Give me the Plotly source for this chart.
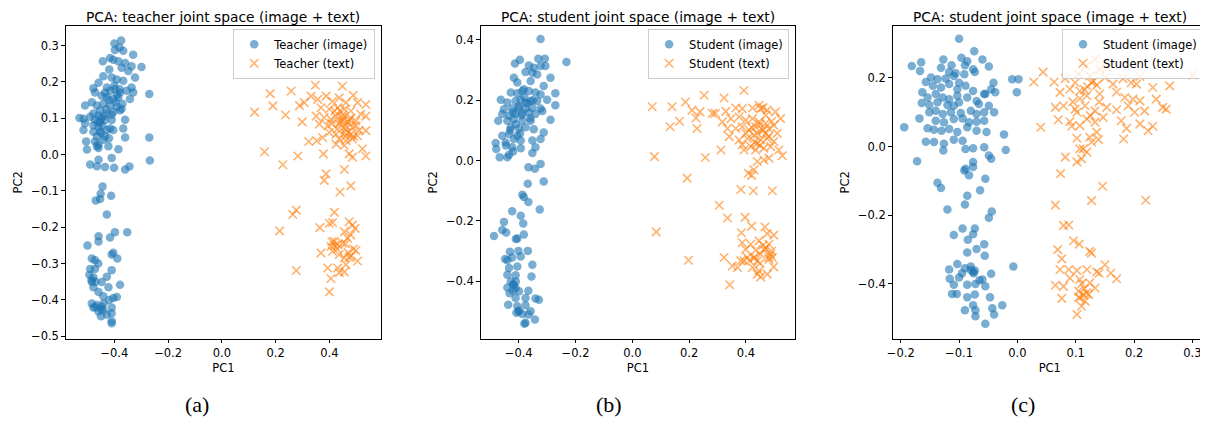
import plotly.graph_objects as go

# ---------------- data (PC1, PC2) ----------------
teacher_image = [
    (-0.400, 0.306), (-0.375, 0.314), (-0.381, 0.295), (-0.398, 0.288), (-0.367, 0.286), (-0.330, 0.275),
    (-0.443, 0.257), (-0.416, 0.266), (-0.404, 0.261), (-0.385, 0.257), (-0.360, 0.252), (-0.336, 0.243),
    (-0.299, 0.241), (-0.373, 0.239), (-0.419, 0.234), (-0.348, 0.230), (-0.323, 0.212), (-0.441, 0.216),
    (-0.410, 0.212), (-0.391, 0.207), (-0.367, 0.203), (-0.336, 0.185), (-0.478, 0.183), (-0.459, 0.198),
    (-0.428, 0.185), (-0.416, 0.176), (-0.398, 0.180), (-0.379, 0.171), (-0.354, 0.176), (-0.330, 0.171),
    (-0.270, 0.167), (-0.472, 0.171), (-0.447, 0.162), (-0.428, 0.158), (-0.404, 0.153), (-0.385, 0.158),
    (-0.342, 0.153), (-0.484, 0.144), (-0.509, 0.135), (-0.465, 0.135), (-0.441, 0.140), (-0.416, 0.135),
    (-0.391, 0.131), (-0.373, 0.126), (-0.453, 0.122), (-0.478, 0.113), (-0.459, 0.108), (-0.428, 0.113),
    (-0.404, 0.117), (-0.379, 0.122), (-0.530, 0.101), (-0.515, 0.099), (-0.490, 0.104), (-0.472, 0.095),
    (-0.453, 0.090), (-0.435, 0.095), (-0.410, 0.095), (-0.360, 0.096), (-0.509, 0.086), (-0.478, 0.081),
    (-0.459, 0.077), (-0.416, 0.072), (-0.515, 0.068), (-0.478, 0.063), (-0.453, 0.063), (-0.428, 0.068),
    (-0.404, 0.068), (-0.367, 0.072), (-0.465, 0.050), (-0.435, 0.050), (-0.360, 0.047), (-0.270, 0.047),
    (-0.505, 0.036), (-0.472, 0.036), (-0.441, 0.041), (-0.459, 0.027), (-0.465, 0.023), (-0.422, 0.023),
    (-0.385, 0.015), (-0.502, 0.014), (-0.459, 0.018), (-0.410, -0.009), (-0.459, -0.014), (-0.268, -0.016),
    (-0.490, -0.027), (-0.465, -0.032), (-0.435, -0.034), (-0.401, -0.036), (-0.360, -0.041), (-0.344, -0.033),
    (-0.440, 0.105), (-0.450, 0.100), (-0.430, 0.125), (-0.420, 0.150), (-0.390, 0.165), (-0.400, 0.190),
    (-0.380, 0.180), (-0.460, 0.090), (-0.445, 0.080), (-0.410, 0.110), (-0.395, 0.145), (-0.435, 0.170),
    (-0.370, 0.140), (-0.450, 0.060), (-0.420, 0.045),
    (-0.444, -0.088), (-0.451, -0.108), (-0.412, -0.113), (-0.469, -0.126), (-0.453, -0.122), (-0.428, -0.165),
    (-0.398, -0.214), (-0.352, -0.214), (-0.459, -0.225), (-0.416, -0.228), (-0.500, -0.250), (-0.459, -0.239),
    (-0.484, -0.286), (-0.472, -0.291), (-0.410, -0.275), (-0.404, -0.270), (-0.389, -0.286), (-0.490, -0.315),
    (-0.472, -0.315), (-0.410, -0.318), (-0.493, -0.331), (-0.478, -0.338), (-0.428, -0.336), (-0.484, -0.351),
    (-0.447, -0.351), (-0.478, -0.365), (-0.422, -0.365), (-0.379, -0.358), (-0.459, -0.378), (-0.441, -0.390),
    (-0.404, -0.395), (-0.391, -0.392), (-0.484, -0.410), (-0.465, -0.414), (-0.447, -0.419), (-0.478, -0.421),
    (-0.441, -0.428), (-0.410, -0.421), (-0.459, -0.432), (-0.428, -0.440), (-0.410, -0.437), (-0.410, -0.459),
    (-0.410, -0.464), (-0.470, -0.420), (-0.450, -0.425), (-0.440, -0.410), (-0.485, -0.345), (-0.460, -0.300),
    (-0.470, -0.350), (-0.420, -0.400), (-0.450, -0.445),
]

teacher_text = [
    (0.348, 0.191), (0.449, 0.188), (0.180, 0.168), (0.258, 0.175), (0.122, 0.117), (0.190, 0.134),
    (0.237, 0.109), (0.299, 0.090), (0.289, 0.135), (0.307, 0.143), (0.332, 0.161), (0.357, 0.152),
    (0.388, 0.161), (0.412, 0.147), (0.437, 0.156), (0.462, 0.143), (0.489, 0.163), (0.505, 0.143),
    (0.536, 0.138), (0.369, 0.129), (0.400, 0.125), (0.431, 0.129), (0.456, 0.125), (0.480, 0.120),
    (0.517, 0.111), (0.536, 0.106), (0.351, 0.106), (0.381, 0.102), (0.406, 0.097), (0.425, 0.106),
    (0.449, 0.102), (0.474, 0.097), (0.499, 0.093), (0.363, 0.084), (0.394, 0.079), (0.437, 0.084),
    (0.462, 0.079), (0.486, 0.075), (0.511, 0.066), (0.536, 0.066), (0.400, 0.061), (0.425, 0.056),
    (0.456, 0.061), (0.480, 0.056), (0.505, 0.052), (0.437, 0.043), (0.462, 0.038), (0.486, 0.043),
    (0.323, 0.036), (0.353, 0.038), (0.375, 0.047), (0.425, 0.029), (0.456, 0.025), (0.474, 0.002),
    (0.486, -0.007), (0.523, 0.016), (0.536, -0.004), (0.378, 0.002), (0.283, -0.004), (0.159, 0.008),
    (0.227, -0.028), (0.388, -0.053), (0.381, -0.071), (0.456, -0.041), (0.480, -0.086), (0.440, -0.103),
    (0.440, 0.090), (0.460, 0.070), (0.470, 0.090), (0.450, 0.110), (0.430, 0.070), (0.480, 0.100),
    (0.470, 0.060), (0.440, 0.120), (0.460, 0.050), (0.420, 0.120), (0.500, 0.080), (0.450, 0.095),
    (0.490, 0.050), (0.410, 0.085),
    (0.277, -0.153), (0.264, -0.165), (0.419, -0.159), (0.215, -0.210), (0.365, -0.201), (0.400, -0.189),
    (0.412, -0.187), (0.474, -0.185), (0.486, -0.194), (0.496, -0.203), (0.456, -0.212), (0.468, -0.230),
    (0.480, -0.221), (0.419, -0.239), (0.406, -0.253), (0.431, -0.248), (0.449, -0.244), (0.412, -0.266),
    (0.437, -0.275), (0.456, -0.284), (0.474, -0.283), (0.499, -0.264), (0.505, -0.293), (0.369, -0.271),
    (0.462, -0.303), (0.394, -0.312), (0.431, -0.312), (0.456, -0.323), (0.437, -0.325), (0.406, -0.341),
    (0.277, -0.319), (0.400, -0.378), (0.420, -0.250), (0.430, -0.260), (0.470, -0.270), (0.480, -0.280),
    (0.490, -0.260), (0.460, -0.245), (0.410, -0.240),
]

student_image_b = [
    (-0.323, 0.402), (-0.232, 0.326), (-0.413, 0.321), (-0.396, 0.334), (-0.331, 0.337), (-0.308, 0.337),
    (-0.364, 0.315), (-0.347, 0.307), (-0.323, 0.313), (-0.306, 0.313), (-0.376, 0.293), (-0.352, 0.291),
    (-0.335, 0.285), (-0.288, 0.274), (-0.417, 0.274), (-0.405, 0.258), (-0.312, 0.247), (-0.358, 0.263),
    (-0.382, 0.236), (-0.428, 0.225), (-0.405, 0.223), (-0.387, 0.230), (-0.364, 0.230), (-0.341, 0.225),
    (-0.323, 0.219), (-0.271, 0.223), (-0.463, 0.201), (-0.440, 0.192), (-0.411, 0.197), (-0.393, 0.201),
    (-0.376, 0.192), (-0.358, 0.197), (-0.335, 0.197), (-0.300, 0.201), (-0.271, 0.183), (-0.452, 0.170),
    (-0.423, 0.172), (-0.399, 0.175), (-0.376, 0.172), (-0.352, 0.175), (-0.323, 0.172), (-0.458, 0.154),
    (-0.434, 0.148), (-0.411, 0.154), (-0.387, 0.157), (-0.364, 0.159), (-0.341, 0.154), (-0.317, 0.164),
    (-0.472, 0.132), (-0.440, 0.132), (-0.417, 0.137), (-0.387, 0.132), (-0.358, 0.132), (-0.288, 0.135),
    (-0.428, 0.110), (-0.399, 0.106), (-0.376, 0.110), (-0.347, 0.104), (-0.458, 0.082), (-0.434, 0.088),
    (-0.405, 0.082), (-0.312, 0.093), (-0.481, 0.058), (-0.446, 0.060), (-0.417, 0.071), (-0.393, 0.066),
    (-0.352, 0.066), (-0.323, 0.071), (-0.479, 0.038), (-0.423, 0.044), (-0.393, 0.041), (-0.341, 0.044),
    (-0.434, 0.019), (-0.467, 0.011), (-0.440, 0.011), (-0.352, 0.025), (-0.366, -0.022), (-0.343, -0.027),
    (-0.323, -0.011), (-0.368, -0.077), (-0.312, -0.069), (-0.387, -0.113), (-0.366, -0.137), (-0.382, -0.121),
    (-0.326, -0.162), (-0.423, -0.168),
    (-0.400, 0.180), (-0.380, 0.210), (-0.420, 0.160), (-0.390, 0.150), (-0.370, 0.190), (-0.410, 0.120),
    (-0.350, 0.200), (-0.430, 0.100), (-0.395, 0.090), (-0.360, 0.140), (-0.445, 0.050), (-0.420, 0.030),
    (-0.393, -0.183), (-0.452, -0.203), (-0.384, -0.208), (-0.458, -0.230), (-0.444, -0.238), (-0.487, -0.250),
    (-0.405, -0.258), (-0.382, -0.245), (-0.431, -0.302), (-0.401, -0.299), (-0.368, -0.299), (-0.448, -0.326),
    (-0.423, -0.321), (-0.393, -0.318), (-0.434, -0.356), (-0.405, -0.351), (-0.352, -0.345), (-0.440, -0.378),
    (-0.411, -0.380), (-0.355, -0.384), (-0.428, -0.400), (-0.417, -0.411), (-0.440, -0.420), (-0.411, -0.422),
    (-0.432, -0.439), (-0.399, -0.433), (-0.366, -0.431), (-0.411, -0.455), (-0.376, -0.455), (-0.341, -0.457),
    (-0.329, -0.461), (-0.437, -0.477), (-0.405, -0.482), (-0.376, -0.479), (-0.399, -0.497), (-0.358, -0.499),
    (-0.408, -0.504), (-0.387, -0.508), (-0.366, -0.510), (-0.343, -0.526), (-0.376, -0.537),
    (-0.420, -0.410), (-0.410, -0.400), (-0.420, -0.430), (-0.400, -0.500), (-0.380, -0.540), (-0.440, -0.330),
    (-0.410, -0.260),
]

student_text_b = [
    (0.070, 0.178), (0.140, 0.178), (0.187, 0.194), (0.253, 0.216), (0.323, 0.207), (0.393, 0.232),
    (0.133, 0.112), (0.166, 0.130), (0.210, 0.167), (0.224, 0.141), (0.238, 0.161), (0.228, 0.106),
    (0.282, 0.156), (0.292, 0.156), (0.329, 0.163), (0.364, 0.174), (0.387, 0.172), (0.423, 0.174),
    (0.446, 0.183), (0.452, 0.172), (0.475, 0.167), (0.504, 0.161), (0.522, 0.139), (0.317, 0.128),
    (0.347, 0.139), (0.376, 0.145), (0.399, 0.134), (0.423, 0.139), (0.446, 0.128), (0.469, 0.123),
    (0.498, 0.117), (0.335, 0.106), (0.364, 0.106), (0.387, 0.112), (0.411, 0.101), (0.434, 0.112),
    (0.458, 0.101), (0.481, 0.106), (0.510, 0.090), (0.341, 0.079), (0.376, 0.068), (0.405, 0.073),
    (0.428, 0.084), (0.452, 0.068), (0.475, 0.073), (0.498, 0.063), (0.387, 0.052), (0.417, 0.046),
    (0.440, 0.057), (0.463, 0.041), (0.487, 0.046), (0.516, 0.035), (0.528, 0.016), (0.393, 0.035),
    (0.434, 0.035), (0.312, 0.035), (0.257, 0.010), (0.078, 0.013), (0.481, 0.008), (0.440, -0.003),
    (0.463, 0.002), (0.408, -0.042), (0.428, -0.031), (0.420, -0.049), (0.193, -0.058), (0.382, -0.096),
    (0.426, -0.100), (0.493, -0.100),
    (0.460, 0.100), (0.470, 0.090), (0.440, 0.090), (0.450, 0.120), (0.480, 0.080), (0.430, 0.060),
    (0.470, 0.150), (0.460, 0.175), (0.420, 0.110), (0.490, 0.130), (0.450, 0.050), (0.400, 0.090),
    (0.306, -0.148), (0.335, -0.190), (0.397, -0.188), (0.420, -0.217), (0.467, -0.220), (0.084, -0.236),
    (0.384, -0.239), (0.475, -0.242), (0.498, -0.247), (0.387, -0.272), (0.417, -0.277), (0.446, -0.266),
    (0.481, -0.277), (0.399, -0.294), (0.434, -0.297), (0.463, -0.294), (0.487, -0.310), (0.405, -0.321),
    (0.428, -0.323), (0.452, -0.310), (0.493, -0.321), (0.382, -0.332), (0.411, -0.330), (0.440, -0.332),
    (0.481, -0.327), (0.323, -0.321), (0.198, -0.330), (0.352, -0.349), (0.370, -0.354), (0.393, -0.332),
    (0.423, -0.354), (0.446, -0.365), (0.475, -0.376), (0.498, -0.352), (0.452, -0.385), (0.440, -0.376),
    (0.343, -0.411), (0.460, -0.280), (0.470, -0.290), (0.490, -0.300), (0.480, -0.320), (0.430, -0.320),
    (0.450, -0.340),
]

student_image_c = [
    (-0.100, 0.314), (-0.074, 0.278), (-0.181, 0.235), (-0.165, 0.246), (-0.127, 0.254), (-0.113, 0.237),
    (-0.096, 0.259), (-0.086, 0.249), (-0.060, 0.254), (-0.049, 0.233), (-0.167, 0.220), (-0.157, 0.188),
    (-0.131, 0.230), (-0.117, 0.217), (-0.106, 0.214), (-0.090, 0.237), (-0.076, 0.225), (-0.073, 0.217),
    (-0.148, 0.201), (-0.137, 0.196), (-0.123, 0.198), (-0.109, 0.206), (-0.100, 0.186), (-0.091, 0.211),
    (-0.041, 0.186), (-0.009, 0.196), (0.002, 0.196), (-0.001, 0.158), (-0.145, 0.177), (-0.131, 0.172),
    (-0.117, 0.182), (-0.103, 0.167), (-0.089, 0.177), (-0.076, 0.162), (-0.055, 0.153), (-0.045, 0.167),
    (-0.038, 0.158), (-0.163, 0.158), (-0.154, 0.143), (-0.140, 0.153), (-0.128, 0.143), (-0.117, 0.138),
    (-0.103, 0.148), (-0.086, 0.143), (-0.070, 0.133), (-0.057, 0.153), (-0.164, 0.127), (-0.151, 0.121),
    (-0.137, 0.129), (-0.120, 0.121), (-0.109, 0.119), (-0.100, 0.129), (-0.066, 0.124), (-0.049, 0.119),
    (-0.168, 0.082), (-0.151, 0.100), (-0.140, 0.104), (-0.128, 0.095), (-0.114, 0.100), (-0.097, 0.098),
    (-0.080, 0.104), (-0.070, 0.095), (-0.057, 0.100), (-0.040, 0.100), (-0.194, 0.056), (-0.154, 0.053),
    (-0.140, 0.075), (-0.126, 0.071), (-0.109, 0.080), (-0.094, 0.082), (-0.083, 0.071), (-0.070, 0.072),
    (-0.057, 0.075), (-0.143, 0.049), (-0.130, 0.046), (-0.117, 0.051), (-0.103, 0.042), (-0.086, 0.056),
    (-0.070, 0.046), (-0.053, 0.042), (-0.023, 0.035), (-0.157, 0.014), (-0.143, 0.013), (-0.126, 0.008),
    (-0.109, 0.020), (-0.094, 0.017), (-0.076, -0.005), (-0.089, -0.007), (-0.057, -0.002), (-0.020, -0.010),
    (-0.127, -0.012), (-0.172, -0.043), (-0.049, -0.026), (-0.045, -0.036), (-0.089, -0.065), (-0.091, -0.070),
    (-0.076, -0.045), (-0.076, -0.060), (-0.083, -0.084), (-0.055, -0.094), (-0.137, -0.106), (-0.131, -0.121),
    (-0.064, -0.128), (-0.086, -0.144), (-0.090, -0.169), (-0.120, -0.184), (-0.049, -0.208), (-0.044, -0.190),
    (-0.109, -0.258), (-0.094, -0.239), (-0.073, -0.239), (-0.076, -0.256), (-0.085, -0.272), (-0.057, -0.285),
    (-0.086, -0.309), (-0.070, -0.299), (-0.056, -0.319), (-0.117, -0.359), (-0.103, -0.343), (-0.090, -0.355),
    (-0.080, -0.350), (-0.073, -0.362), (-0.007, -0.350), (-0.116, -0.386), (-0.100, -0.382), (-0.076, -0.366),
    (-0.060, -0.388), (-0.045, -0.371), (-0.109, -0.403), (-0.086, -0.403), (-0.072, -0.401), (-0.055, -0.408),
    (-0.112, -0.430), (-0.104, -0.430), (-0.086, -0.440), (-0.073, -0.432), (-0.047, -0.440), (-0.090, -0.478),
    (-0.076, -0.463), (-0.072, -0.478), (-0.043, -0.472), (-0.026, -0.463), (-0.072, -0.495), (-0.040, -0.490),
    (-0.055, -0.517), (-0.080, -0.360), (-0.075, -0.370), (-0.065, -0.390), (-0.095, -0.370),
]

student_text_c = [
    (0.133, 0.254), (0.118, 0.235), (0.141, 0.225), (0.153, 0.230), (0.044, 0.217), (0.105, 0.211),
    (0.124, 0.206), (0.150, 0.201), (0.181, 0.198), (0.210, 0.204), (0.028, 0.188), (0.063, 0.188),
    (0.082, 0.198), (0.099, 0.186), (0.127, 0.186), (0.136, 0.179), (0.164, 0.182), (0.195, 0.186),
    (0.204, 0.182), (0.232, 0.172), (0.261, 0.177), (0.301, 0.208), (0.073, 0.158), (0.090, 0.167),
    (0.107, 0.162), (0.119, 0.148), (0.141, 0.153), (0.170, 0.159), (0.184, 0.143), (0.198, 0.138),
    (0.210, 0.133), (0.238, 0.138), (0.107, 0.140), (0.065, 0.114), (0.079, 0.119), (0.099, 0.109),
    (0.116, 0.119), (0.133, 0.104), (0.153, 0.114), (0.170, 0.107), (0.190, 0.119), (0.201, 0.100),
    (0.218, 0.104), (0.249, 0.114), (0.255, 0.109), (0.102, 0.100), (0.070, 0.078), (0.090, 0.072),
    (0.107, 0.061), (0.119, 0.080), (0.133, 0.071), (0.147, 0.085), (0.178, 0.075), (0.187, 0.053),
    (0.210, 0.066), (0.232, 0.059), (0.224, 0.046), (0.040, 0.056), (0.093, 0.059), (0.136, 0.042),
    (0.102, 0.024), (0.124, 0.027), (0.139, 0.020), (0.127, 0.013), (0.182, 0.022), (0.107, -0.007),
    (0.119, -0.016), (0.113, -0.007), (0.082, -0.031), (0.102, -0.045), (0.110, -0.036), (0.074, -0.079),
    (0.146, -0.116), (0.127, -0.158), (0.065, -0.171), (0.220, -0.157), (0.079, -0.231), (0.088, -0.229),
    (0.120, 0.175), (0.130, 0.190), (0.115, 0.165), (0.140, 0.130), (0.095, 0.130), (0.125, 0.090),
    (0.096, -0.275), (0.106, -0.285), (0.124, -0.306), (0.127, -0.311), (0.069, -0.301), (0.076, -0.328),
    (0.073, -0.359), (0.088, -0.359), (0.102, -0.362), (0.119, -0.359), (0.136, -0.366), (0.150, -0.345),
    (0.170, -0.386), (0.065, -0.405), (0.079, -0.408), (0.090, -0.384), (0.107, -0.388), (0.124, -0.398),
    (0.133, -0.413), (0.105, -0.422), (0.119, -0.427), (0.076, -0.443), (0.107, -0.442), (0.116, -0.451),
    (0.110, -0.466), (0.102, -0.490), (0.113, -0.432), (0.122, -0.432), (0.110, -0.400), (0.105, -0.440),
    (0.115, -0.415), (0.160, -0.370), (0.140, -0.370),
]

titles = ["PCA: teacher joint space (image + text)",
          "PCA: student joint space (image + text)",
          "PCA: student joint space (image + text)"]
legend_names = [("Teacher (image)", "Teacher (text)"),
                ("Student (image)", "Student (text)"),
                ("Student (image)", "Student (text)")]
captions = ["(a)", "(b)", "(c)"]

x_ticks = [[-0.4, -0.2, 0.0, 0.2, 0.4],
           [-0.4, -0.2, 0.0, 0.2, 0.4],
           [-0.2, -0.1, 0.0, 0.1, 0.2, 0.3]]
y_ticks = [[0.3, 0.2, 0.1, 0.0, -0.1, -0.2, -0.3, -0.4, -0.5],
           [0.4, 0.2, 0.0, -0.2, -0.4],
           [0.2, 0.0, -0.2, -0.4]]
x_ranges = [[-0.581, 0.593], [-0.534, 0.573], [-0.214, 0.325]]
y_ranges = [[-0.507, 0.3545], [-0.590, 0.446], [-0.561, 0.352]]

panels = [(teacher_image, teacher_text), (student_image_b, student_text_b),
          (student_image_c, student_text_c)]

# ---------------- layout geometry ----------------
# the page body adds an 8px margin, so the figure is 8px smaller and every
# screen position below is given relative to the figure's own origin
OFF = 8
W, H = 1208 - OFF, 423 - OFF
x_doms_px = [(60 - OFF, 377 - OFF), (477 - OFF, 793 - OFF), (891 - OFF, 1207 - OFF)]
y_dom_px = (26 - OFF, 342 - OFF)
legend_right_px = [371 - OFF, 787 - OFF, 1203 - OFF]
legend_top_px = 29 - OFF
caption_y_px = 408 - OFF
caption_x_px = [192 - OFF, 606 - OFF, 1022 - OFF]

BLUE = "#1f77b4"
ORANGE = "#ff7f0e"
FONT = "DejaVu Sans"
SMALL = 11.5
TITLE = 13.8


def lab(v):
    s = f"{abs(v):.1f}"
    return ("\u2212" + s) if v < 0 else s


fig = go.Figure()
layout = dict(
    width=W, height=H,
    margin=dict(l=0, r=0, t=0, b=0),
    paper_bgcolor="white", plot_bgcolor="white",
    font=dict(family=FONT, size=SMALL, color="black"),
    showlegend=True,
    annotations=[],
)

for i, (img, txt) in enumerate(panels):
    n = "" if i == 0 else str(i + 1)
    xa, ya = "x" + n, "y" + n
    leg = "legend" + n
    fig.add_trace(go.Scatter(
        x=[p[0] for p in img], y=[p[1] for p in img], mode="markers",
        name=legend_names[i][0], xaxis=xa, yaxis=ya, legend=leg,
        marker=dict(symbol="circle", size=8.5, color=BLUE, opacity=0.6, line=dict(width=0)),
    ))
    fig.add_trace(go.Scatter(
        x=[p[0] for p in txt], y=[p[1] for p in txt], mode="markers",
        name=legend_names[i][1], xaxis=xa, yaxis=ya, legend=leg,
        marker=dict(symbol="x-thin", size=8.5, color=ORANGE, opacity=0.6,
                    line=dict(width=1.6, color=ORANGE)),
    ))
    x0, x1 = x_doms_px[i]
    axis_common = dict(showline=True, mirror=True, linecolor="black", linewidth=1,
                       ticks="outside", ticklen=3.5, tickwidth=1, tickcolor="black",
                       showgrid=False, zeroline=False,
                       tickfont=dict(family=FONT, size=SMALL, color="black"))
    layout["xaxis" + n] = dict(
        domain=[x0 / W, x1 / W], range=x_ranges[i], anchor=ya,
        tickvals=x_ticks[i], ticktext=[lab(v) for v in x_ticks[i]],
        title=dict(text="PC1", font=dict(family=FONT, size=SMALL), standoff=4),
        **axis_common)
    layout["yaxis" + n] = dict(
        domain=[1 - y_dom_px[1] / H, 1 - y_dom_px[0] / H], range=y_ranges[i], anchor=xa,
        tickvals=y_ticks[i], ticktext=[lab(v) for v in y_ticks[i]],
        title=dict(text="PC2", font=dict(family=FONT, size=SMALL), standoff=5),
        **axis_common)
    layout[leg] = dict(
        x=legend_right_px[i] / W, y=1 - legend_top_px / H, xanchor="right", yanchor="top",
        xref="paper", yref="paper",
        bgcolor="rgba(255,255,255,0.8)", bordercolor="#cccccc", borderwidth=1,
        font=dict(family=FONT, size=SMALL, color="black"), itemwidth=30,
        tracegroupgap=0,
    )
    layout["annotations"].append(dict(
        text=titles[i], x=(x0 + x1) / 2 / W, y=1.0, xref="paper", yref="paper",
        xanchor="center", yanchor="top", showarrow=False, borderpad=0,
        font=dict(family=FONT, size=TITLE, color="black")))
    layout["annotations"].append(dict(
        text=captions[i], x=caption_x_px[i] / W, y=1 - caption_y_px / H, xref="paper", yref="paper",
        xanchor="center", yanchor="middle", showarrow=False,
        font=dict(family="Liberation Serif", size=22, color="black")))

fig.update_layout(**layout)
fig.write_html("out.html")
